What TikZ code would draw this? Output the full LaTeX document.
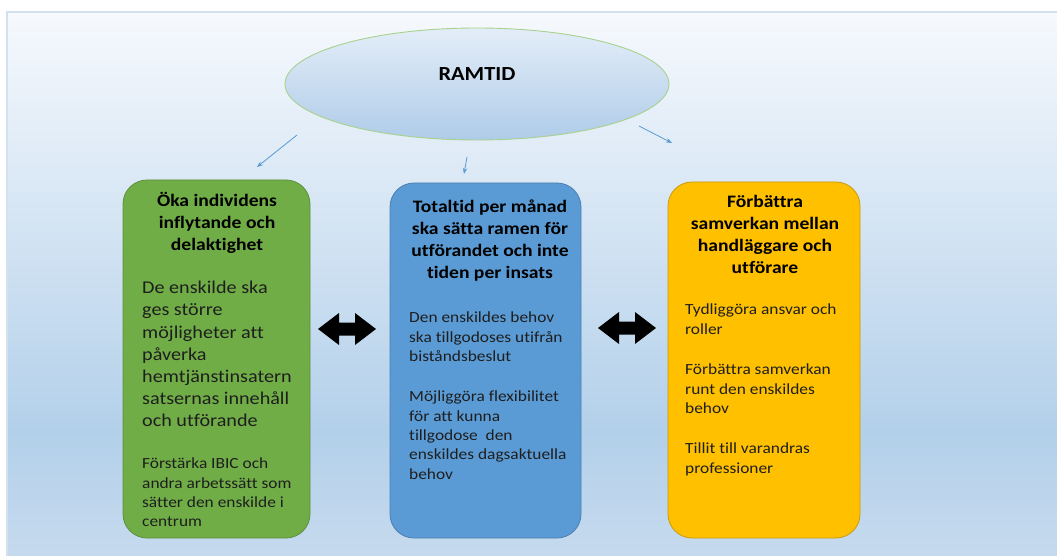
\documentclass[tikz,border=0pt]{standalone}
\usepackage{fontspec}
\setmainfont{Carlito}[FakeStretch=1.12, Ligatures=NoCommon]
\usetikzlibrary{shapes.geometric,arrows.meta,calc}
\definecolor{bgtop}{HTML}{F6F9FD}
\definecolor{bgmid}{HTML}{B3D0EA}
\definecolor{bgbot}{HTML}{C6DAEE}
\definecolor{bgline}{HTML}{D3E0EE}
\definecolor{ellA}{HTML}{E3EDF8}
\definecolor{ellB}{HTML}{AFCCE8}
\definecolor{ellLine}{HTML}{A9D18E}
\definecolor{cgreen}{HTML}{70AD47}
\definecolor{cgreenL}{HTML}{5E8F3D}
\definecolor{cblue}{HTML}{5B9BD5}
\definecolor{cblueL}{HTML}{4A7FB0}
\definecolor{cyellow}{HTML}{FFC000}
\definecolor{cyellowL}{HTML}{C99A10}
\definecolor{arrblue}{HTML}{5B9BD5}
\definecolor{txt}{HTML}{1E1E1E}
\tikzset{
  card/.style={rounded corners=24pt, line width=0.8pt},
  ttl/.style={font=\bfseries\fontsize{17.5}{22}\selectfont, text=black, align=center, anchor=north, inner sep=0pt},
  bigtxt/.style={font=\fontsize{18}{22.2}\selectfont, text=txt, align=left, anchor=north west, inner sep=0pt},
  smalltxt/.style={font=\fontsize{15.5}{19.3}\selectfont, text=txt, align=left, anchor=north west, inner sep=0pt},
  thinarr/.style={draw=arrblue, line width=0.8pt, -{Stealth[length=6pt,width=4.5pt]}},
  dblarr/.style={fill=black, draw=none},
}
\newcommand{\dblarrow}[1]{%
  \fill[dblarr] ($(#1)+(-29,0)$) -- ++(21,-16) -- ++(0,9.5) -- ++(16,0) -- ++(0,-9.5)
    -- ++(21,16) -- ++(-21,16) -- ++(0,-9.5) -- ++(-16,0) -- ++(0,9.5) -- cycle;}
\begin{document}
\begin{tikzpicture}[x=1pt,y=-1pt]
\useasboundingbox (0,0) rectangle (1057,556);
\fill[white] (0,0) rectangle (1057,556);
% background
\shade[top color=bgtop, bottom color=bgmid] (7,12) rectangle (1057,432);
\shade[top color=bgmid, bottom color=bgbot] (7,431.5) rectangle (1057,556);
\draw[bgline, line width=1.2pt] (7,556) -- (7,12) -- (1057,12);
% ellipse
\node[ellipse, draw=ellLine, line width=0.9pt, top color=ellA, bottom color=ellB, minimum width=384pt, minimum height=112pt, inner sep=0pt] (ram) at (477,84) {};
\node[font=\bfseries\fontsize{20}{22}\selectfont, text=black, inner sep=0pt] (ramt) at (477,74) {RAMTID};
% boxes
\draw[card, fill=cgreen, draw=cgreenL] (123,180) rectangle (310,538);
\draw[card, fill=cblue, draw=cblueL] (390,183) rectangle (581,538);
\draw[card, fill=cyellow, draw=cyellowL] (668,182) rectangle (860,538);
% green texts
\node[ttl] (gt) at (217,192) {Öka individens\\inflytande och\\delaktighet};
\node[bigtxt] (gb) at (142,281) {De enskilde ska\\ges större\\möjligheter att\\påverka\\hemtjänstinsatern\\satsernas innehåll\\och utförande};
\node[smalltxt] (gs) at (142,458) {Förstärka IBIC och\\andra arbetssätt som\\sätter den enskilde i\\centrum};
% blue texts
\node[ttl] (bt) at (490,200) {Totaltid per månad\\ska sätta ramen för\\utförandet och inte\\tiden per insats};
\node[smalltxt] (bs1) at (409,312) {Den enskildes behov\\ska tillgodoses utifrån\\biståndsbeslut};
\node[smalltxt] (bs2) at (409,391) {Möjliggöra flexibilitet\\för att kunna\\tillgodose\ \ den\\enskildes dagsaktuella\\behov};
% yellow texts
\node[ttl] (yt) at (765,195) {Förbättra\\samverkan mellan\\handläggare och\\utförare};
\node[smalltxt] (ys1) at (685,304) {Tydliggöra ansvar och\\roller};
\node[smalltxt] (ys2) at (685,364) {Förbättra samverkan\\runt den enskildes\\behov};
\node[smalltxt] (ys3) at (685,443) {Tillit till varandras\\professioner};
% thin arrows
\coordinate (a1s) at (297,135); \coordinate (a1e) at (257,167);
\coordinate (a2s) at (467,157); \coordinate (a2e) at (464,174);
\coordinate (a3s) at (639,126); \coordinate (a3e) at (672,143);
\draw[thinarr] (a1s) -- (a1e);
\draw[thinarr] (a2s) -- (a2e);
\draw[thinarr] (a3s) -- (a3e);
% double arrows
\coordinate (d1) at (347,329);
\coordinate (d2) at (627,328);
\dblarrow{d1}
\dblarrow{d2}
\end{tikzpicture}
\end{document}
